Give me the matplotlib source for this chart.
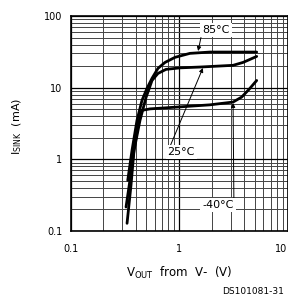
import numpy as np
import matplotlib
matplotlib.use('Agg')
import matplotlib.pyplot as plt

# sink current vs output voltage, three temperatures
v_m40 = [0.332, 0.361, 0.385, 0.419, 0.453, 0.541, 0.958, 1.93, 3.15, 3.78, 4.42, 5.2]
i_m40 = [0.128, 0.434, 1.335, 2.98, 4.82, 5.06, 5.36, 5.76, 6.3, 7.39, 9.47, 12.6]

v_25 = [0.325, 0.353, 0.385, 0.437, 0.497, 0.564, 0.64, 0.759, 1.02, 1.56, 3.15, 3.89, 4.51, 5.2]
i_25 = [0.216, 0.509, 1.335, 3.5, 7.32, 12.6, 15.8, 18.0, 18.9, 19.4, 20.5, 22.5, 24.8, 27.3]

v_85 = [0.337, 0.369, 0.41, 0.456, 0.507, 0.564, 0.64, 0.743, 0.919, 1.26, 1.93, 5.2]
i_85 = [0.509, 1.335, 3.5, 6.65, 9.78, 13.5, 18.6, 22.5, 26.5, 30.1, 31.4, 31.4]

xticks = [0.1, 1, 10]
xticklabels = ['0.1', '1', '10']
yticks = [0.1, 1, 10, 100]
yticklabels = ['0.1', '1', '10', '100']

fig = plt.figure(figsize=(2.88, 3.0), dpi=100)
ax = fig.add_axes([70.5/288, 69/300, 217/288, 215/300])
ax.set_xscale('log')
ax.set_yscale('log')
ax.set_xlim(0.1, 10)
ax.set_ylim(0.1, 100)

ax.grid(True, which='major', color='black', lw=0.9)
ax.grid(True, which='minor', color='#444444', lw=0.7)
ax.set_axisbelow(True)

for v, i in ((v_m40, i_m40), (v_25, i_25), (v_85, i_85)):
    ax.plot(v, i, color='black', lw=2.0, solid_capstyle='round')

ax.set_xticks(xticks)
ax.set_xticklabels(xticklabels)
ax.get_xticklabels()[-1].set_ha('right')  # keep "10" inside the figure
ax.set_yticks(yticks)
ax.set_yticklabels(yticklabels)
ax.tick_params(which='both', length=0, labelsize=7)
ax.tick_params(axis='x', pad=9)
ax.tick_params(axis='y', pad=6)
for s in ax.spines.values():
    s.set_linewidth(1.2)

box = dict(facecolor='white', edgecolor='none', pad=1.5)
arrow = dict(arrowstyle='-|>', lw=0.7, color='black', shrinkA=0, shrinkB=0,
             mutation_scale=6)
ax.annotate('85°C', xy=(1.5, 32.5), xytext=(2.2, 63), fontsize=8,
            ha='center', va='center', bbox=box, zorder=5,
            arrowprops=dict(arrow, relpos=(0, 0.5)))
ax.annotate('25°C', xy=(1.66, 18.8), xytext=(1.05, 1.26), fontsize=8,
            ha='center', va='center', bbox=box, zorder=5,
            arrowprops=dict(arrow, relpos=(0, 0.5)))
ax.annotate('-40°C', xy=(3.15, 6.1), xytext=(2.3, 0.228), fontsize=8,
            ha='center', va='center', bbox=box, zorder=5,
            arrowprops=dict(arrow, relpos=(1, 0.5)))

fig.text(17/288, 1 - 126/300, r'I$_{\rm SINK}$  (mA)', rotation=90,
         ha='center', va='center', fontsize=8)
fig.text(179/288, 1 - 273/300, r'V$_{\rm OUT}$  from  V-  (V)',
         ha='center', va='center', fontsize=8.5)
fig.text(284/288, 1 - 292/300, 'DS101081-31', ha='right', va='center',
         fontsize=6.5)

fig.savefig('out.png', dpi=100)
